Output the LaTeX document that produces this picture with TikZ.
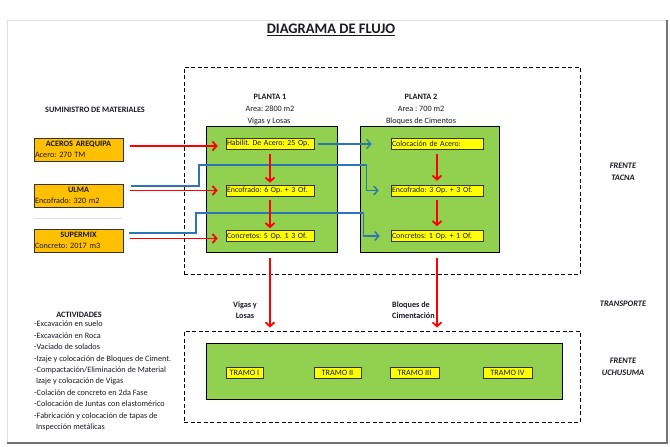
\documentclass[tikz,border=0pt]{standalone}
\usepackage{fontspec}
\setmainfont{Carlito}
\usepackage{tikz}
\usetikzlibrary{arrows.meta, positioning}
\definecolor{frorange}{RGB}{255,192,0}
\definecolor{frgreen}{RGB}{146,208,80}
\definecolor{fryellow}{RGB}{255,255,0}
\definecolor{frred}{RGB}{255,0,0}
\definecolor{frblue}{RGB}{46,117,182}
\definecolor{frtext}{RGB}{25,25,35}
\frenchspacing

\begin{document}
\begin{tikzpicture}[x=1pt, y=-1pt,
  every node/.style={font=\fontsize{8.2}{11.5}\selectfont, text=frtext, inner sep=1pt},
  supplier/.style={rectangle, draw=black!80, fill=frorange, line width=0.8pt,
                   minimum width=89pt, minimum height=23pt, text width=87pt,
                   align=left, inner sep=1pt, font=\fontsize{8.2}{10.5}\selectfont},
  planta/.style={rectangle, draw=black, fill=frgreen, line width=1pt},
  task/.style={rectangle, draw=black!80, fill=fryellow, line width=0.6pt,
               minimum height=11pt, inner xsep=1pt, inner ysep=0pt, align=left,
               font=\fontsize{7.9}{9}\selectfont},
  tramo/.style={rectangle, draw=black!80, fill=fryellow, line width=0.6pt,
                minimum height=11pt, inner sep=0pt},
  frente/.style={rectangle, draw=black, line width=1pt, dash pattern=on 4pt off 2.5pt},
  head/.style={font=\fontsize{8.2}{11.5}\selectfont\bfseries},
  side/.style={font=\fontsize{8.4}{12}\selectfont\bfseries\itshape, align=center},
  redarr/.style={-{Straight Barb[length=4pt,width=9pt]}, line width=1.8pt, color=frred},
  bluearr/.style={-{Straight Barb[length=4pt,width=9pt]}, line width=1.4pt, color=frblue},
]
\useasboundingbox (0,0) rectangle (670,447);

% page frame
\draw[black!12, line width=0.6pt] (7,443) -- (7,20) -- (667,20);
\draw[black!55, line width=1.5pt] (667,20) -- (667,443) -- (7,443);

\node[font=\fontsize{14.5}{16}\selectfont\bfseries] (title) at (331,30) {\underline{DIAGRAMA DE FLUJO}};

% frentes
\node[frente, minimum width=396pt, minimum height=207pt] (tacna) at (382,170.5) {};
\node[frente, minimum width=396pt, minimum height=91pt]  (uchu)  at (382,376.5) {};

% suministro
\node[head] (sumin) at (95,110) {SUMINISTRO DE MATERIALES};
\node[supplier] (acero)    at (78.5,149.5) {\makebox[87pt]{\textbf{ACEROS AREQUIPA}}\\Acero: 270 TM};
\node[supplier] (ulma)     at (78.5,195.5) {\makebox[87pt]{\textbf{ULMA}}\\Encofrado: 320 m2};
\node[supplier] (supermix) at (78.5,240.5) {\makebox[87pt]{\textbf{SUPERMIX}}\\Concreto: 2017 m3};
\draw[black!12, line width=0.6pt] (34,218) -- (122,218);

% plantas
\node[head] (p1title) at (270,97) {PLANTA 1};
\node (p1area) at (270,109) {Area: 2800 m2};
\node (p1use)  at (269,121) {Vigas y Losas};
\node[head] (p2title) at (421,97) {PLANTA 2};
\node (p2area) at (421,109) {Area : 700 m2};
\node (p2use)  at (421,121) {Bloques de Cimentos};

\node[planta, minimum width=131pt, minimum height=126pt] (p1) at (271.5,189) {};
\node[planta, minimum width=139pt, minimum height=126pt] (p2) at (429.5,189) {};

\node[task, text width=86pt] (hab1)  at (270,143.5) {Habilit. De Acero: 25 Op.};
\node[task, text width=86pt] (enc1)  at (270,190.5) {Encofrado: 6 Op. + 3 Of.};
\node[task, text width=86pt] (conc1) at (270,236)   {Concretos: 5 Op. 1 3 Of.};
\node[task, text width=90pt] (col2)  at (437,143.5) {Colocación de Acero:};
\node[task, text width=90pt] (enc2)  at (437,190.5) {Encofrado: 3 Op. + 3 Of.};
\node[task, text width=90pt] (conc2) at (437,236)   {Concretos: 1 Op. + 1 Of.};

% lado derecho
\node[side] (ftacna) at (623,172) {FRENTE\\TACNA};
\node[side] (transp) at (623,304) {TRANSPORTE};
\node[side] (fuchu)  at (623,367) {FRENTE\\UCHUSUMA};

% transporte
\node[head, align=center] (vigas) at (245,310) {Vigas y\\Losas};
\node[head, align=left, anchor=west] (bloques) at (391,310) {Bloques de\\Cimentación};

% uchusuma
\node[planta, minimum width=356pt, minimum height=56pt] (tramos) at (384,371) {};
\node[tramo, minimum width=37pt] (t1) at (244.5,372.5) {TRAMO I};
\node[tramo, minimum width=47pt] (t2) at (337.5,372.5) {TRAMO II};
\node[tramo, minimum width=49pt] (t3) at (414.5,372.5) {TRAMO III};
\node[tramo, minimum width=49pt] (t4) at (507.5,372.5) {TRAMO IV};

% actividades
\node[head] (activ) at (79,315) {ACTIVIDADES};
\node[anchor=north west, align=left, font=\fontsize{8.2}{11.4}\selectfont] (lista) at (33,320) {%
-Excavación en suelo\\
-Excavación en Roca\\
-Vaciado de solados\\
-Izaje y colocación de Bloques de Ciment.\\
-Compactación/Eliminación de Material\\
\ Izaje y colocación de Vigas\\
-Colación de concreto en 2da Fase\\
-Colocación de Juntas con elastomérico\\
-Fabricación y colocación de tapas de\\
\ Inspección metálicas};

% flechas
\draw[redarr] ([xshift=7pt,yshift=-2.5pt]acero.east |- hab1.west) -- ([xshift=-8pt,yshift=-2.5pt]hab1.west);
\draw[redarr] ([xshift=7pt]ulma.east |- enc1.west) -- ([xshift=-8pt]enc1.west);
\draw[redarr] ([xshift=7pt,yshift=-2.5pt]supermix.east |- conc1.west) -- ([xshift=-8pt,yshift=-2.5pt]conc1.west);

\draw[bluearr] ([xshift=4pt,yshift=-0.5pt]hab1.east) -- ([xshift=-19pt,yshift=-0.5pt]col2.west);
\draw[bluearr] ([xshift=8pt,yshift=9.5pt]ulma.east) -| (199,165) -| ([xshift=-24pt]enc2.west) -- ([xshift=-12pt]enc2.west);
\draw[bluearr] ([xshift=6pt,yshift=7.5pt]supermix.east) -| (196,213) -| ([xshift=-27pt]conc2.west) -- ([xshift=-11pt]conc2.west);

\draw[redarr] ([yshift=-5pt]hab1.south) -- ([yshift=2pt]enc1.north);
\draw[redarr] ([yshift=-4pt]enc1.south) -- ([yshift=2pt]conc1.north);
\draw[redarr] ([yshift=-5pt]col2.south) -- ([yshift=4pt]enc2.north);
\draw[redarr] ([yshift=-4pt]enc2.south) -- ([yshift=4pt]conc2.north);

\draw[redarr] ([yshift=-5pt]p1.south -| conc1) -- ([yshift=3pt]conc1 |- uchu.north);
\draw[redarr] ([yshift=-5pt]p2.south -| conc2) -- ([yshift=3pt]conc2 |- uchu.north);

\end{tikzpicture}
\end{document}
